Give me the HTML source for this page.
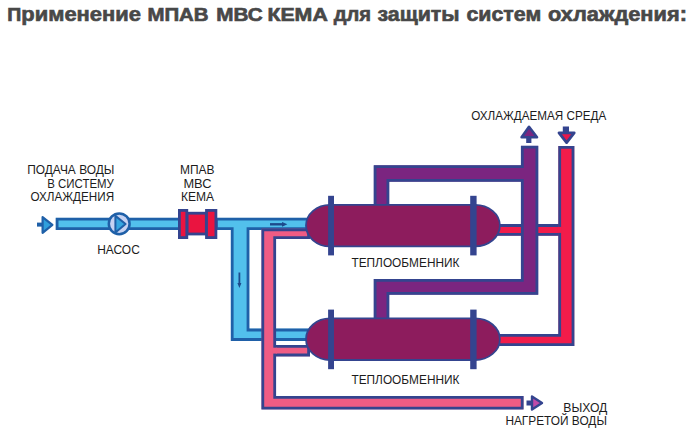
<!DOCTYPE html>
<html lang="ru">
<head>
<meta charset="utf-8">
<title>Применение МПАВ МВС КЕМА</title>
<style>
html,body{margin:0;padding:0;background:#fff;}
body{width:689px;height:433px;overflow:hidden;position:relative;font-family:"Liberation Sans",sans-serif;}
svg{position:absolute;left:0;top:0;display:block;}
.t{font-family:"Liberation Sans",sans-serif;font-size:12.3px;fill:#1c1c1c;}
.lc{font-size:21px;}
.h{font-family:"Liberation Sans",sans-serif;font-size:18.7px;font-weight:bold;fill:#484848;stroke:#484848;stroke-width:0.65px;}
</style>
</head>
<body>
<svg width="689" height="433" viewBox="0 0 689 433">
<defs>
<clipPath id="cb1"><path d="M55.7 217.8 H181 V230.1 H55.7 Z"/></clipPath>
<clipPath id="cb2"><path d="M215 217.8 H310 V230.1 H249.4 V328.6 H310 V340.9 H230.8 V230.1 H215 Z"/></clipPath>
<clipPath id="cp2"><path d="M268 344.9 H310 V356.4 H268 Z"/></clipPath>
<clipPath id="cp1"><path d="M310 228.5 H261.4 V409.6 H523.6 V395.9 H276.1 V239.1 H310 Z"/></clipPath>
<clipPath id="cr2"><path d="M496 224.1 H566 V235.7 H496 Z"/></clipPath>
<clipPath id="cr1"><path d="M558.3 146 H574.4 V346 H496 V334 H558.3 Z"/></clipPath>
<clipPath id="cu1"><path d="M373.7 208 V165.2 H520.9 V145.8 H538.3 V294.8 H389.3 V322 H373.7 V279 H520.9 V181.7 H389.3 V208 Z"/></clipPath>
</defs>
<rect width="689" height="433" fill="#ffffff"/>

<!-- title -->
<text class="h" x="7.30" y="21.2" textLength="133.70" lengthAdjust="spacingAndGlyphs">П<tspan class="lc">рименение</tspan></text>
<text class="h" x="147.44" y="21.2" textLength="61.18" lengthAdjust="spacingAndGlyphs">МПАВ</text>
<text class="h" x="216.26" y="21.2" textLength="46.40" lengthAdjust="spacingAndGlyphs">МВС</text>
<text class="h" x="267.40" y="21.2" textLength="60.40" lengthAdjust="spacingAndGlyphs">КЕМА</text>
<text class="h" x="333.70" y="21.2" textLength="37.38" lengthAdjust="spacingAndGlyphs"><tspan class="lc">для</tspan></text>
<text class="h" x="377.40" y="21.2" textLength="82.19" lengthAdjust="spacingAndGlyphs"><tspan class="lc">защиты</tspan></text>
<text class="h" x="466.50" y="21.2" textLength="74.70" lengthAdjust="spacingAndGlyphs"><tspan class="lc">систем</tspan></text>
<text class="h" x="548.08" y="21.2" textLength="138.82" lengthAdjust="spacingAndGlyphs"><tspan class="lc">охлаждения:</tspan></text>

<!-- blue pipes (cold water in) -->
<path d="M55.7 217.8 H181 V230.1 H55.7 Z" fill="#52c0ec" stroke="#1f60a8" stroke-width="5.6" clip-path="url(#cb1)"/>
<path d="M215 217.8 H310 V230.1 H249.4 V328.6 H310 V340.9 H230.8 V230.1 H215 Z" fill="#52c0ec" stroke="#1f60a8" stroke-width="5.6" clip-path="url(#cb2)"/>
<!-- pink pipes (heated water out) -->
<path d="M268 344.9 H310 V356.4 H268 Z" fill="#f05c84" stroke="#34448f" stroke-width="5.6" clip-path="url(#cp2)"/>
<path d="M310 228.5 H261.4 V409.6 H523.6 V395.9 H276.1 V239.1 H310 Z" fill="#f05c84" stroke="#34448f" stroke-width="5.6" clip-path="url(#cp1)"/>
<rect x="272.90000000000003" y="347.7" width="4.0" height="5.9" fill="#f05c84"/>
<!-- flow arrows in blue pipe -->
<path d="M270 224.3 H283.5" stroke="#1d4a8c" stroke-width="2.4" fill="none"/>
<path d="M282 221.9 L287.4 224.3 L282 226.7 Z" fill="#1d4a8c"/>
<path d="M239.4 272.5 V284.5" stroke="#1d4a8c" stroke-width="1.8" fill="none"/>
<path d="M237.4 283 L239.4 288 L241.4 283 Z" fill="#1d4a8c"/>
<!-- inlet arrow -->
<rect x="37" y="222.6" width="5.5" height="4" fill="#1f60a8"/>
<path d="M42.6 217.2 L52.4 224.8 L42.6 232.8 Z" fill="#2f9fdc" stroke="#1f60a8" stroke-width="2.2" stroke-linejoin="round"/>
<!-- pump -->
<circle cx="119.2" cy="223.8" r="10.4" fill="#c6d2f2" stroke="#1f60a8" stroke-width="2.5"/>
<path d="M115.4 215.9 L125.6 224 L115.4 232.4 Z" fill="#36a6e0" stroke="#1f60a8" stroke-width="2" stroke-linejoin="round"/>
<!-- MPAV device -->
<g fill="#ea1440" stroke="#34448f" stroke-width="2.8">
  <rect x="187" y="213.2" width="19.3" height="20.8"/>
  <rect x="179.4" y="210.4" width="7.4" height="27.2"/>
  <rect x="206.5" y="210.4" width="9.4" height="27.2"/>
</g>
<!-- red pipes (cooled medium in) -->
<path d="M496 224.1 H566 V235.7 H496 Z" fill="#f21c4a" stroke="#34448f" stroke-width="5.6" clip-path="url(#cr2)"/>
<path d="M558.3 146 H574.4 V346 H496 V334 H558.3 Z" fill="#f21c4a" stroke="#34448f" stroke-width="5.6" clip-path="url(#cr1)"/>
<rect x="557.6999999999999" y="226.9" width="4.0" height="6.0" fill="#f21c4a"/>
<!-- purple pipes (cooled medium out) -->
<path d="M373.7 208 V165.2 H520.9 V145.8 H538.3 V294.8 H389.3 V322 H373.7 V279 H520.9 V181.7 H389.3 V208 Z" fill="#7b2580" stroke="#34448f" stroke-width="5.6" clip-path="url(#cu1)"/>
<!-- up arrow -->
<rect x="526.2" y="136" width="5.2" height="7" fill="#34448f"/>
<path d="M529 126.8 L537 137.2 H521.6 Z" fill="#7b2580" stroke="#34448f" stroke-width="2.6" stroke-linejoin="round"/>
<!-- down arrow -->
<rect x="562.8" y="126.5" width="6.2" height="6" fill="#34448f"/>
<path d="M559 132.8 H574.2 L566.6 142.6 Z" fill="#e8164a" stroke="#34448f" stroke-width="2.8" stroke-linejoin="round"/>
<!-- outlet arrow -->
<rect x="526.5" y="400.5" width="5" height="5" fill="#34448f"/>
<path d="M532 396.5 L542 403 L532 409.5 Z" fill="#c04aa8" stroke="#34448f" stroke-width="2.4" stroke-linejoin="round"/>
<!-- heat exchangers -->
<g fill="#8d1c5d" stroke="#34448f" stroke-width="1.8">
  <path d="M330 204.8 H475 A24.9 20.8 0 0 1 475 246.4 H330 A24 20.8 0 0 1 330 204.8 Z"/>
  <path d="M330 318.4 H475 A24.9 20.8 0 0 1 475 360 H330 A24 20.8 0 0 1 330 318.4 Z"/>
</g>
<g fill="#34448f">
  <rect x="328.1" y="195.8" width="5.9" height="59.6"/>
  <rect x="470.2" y="195.8" width="6.4" height="59.6"/>
  <rect x="328.1" y="309.6" width="5.9" height="59.6"/>
  <rect x="470.2" y="309.6" width="6.4" height="59.6"/>
</g>

<!-- labels -->
<text class="t" x="27.20" y="173.8" textLength="87.20" lengthAdjust="spacingAndGlyphs">ПОДАЧА ВОДЫ</text>
<text class="t" x="47.28" y="187.5" textLength="66.59" lengthAdjust="spacingAndGlyphs">В СИСТЕМУ</text>
<text class="t" x="30.50" y="201.3" textLength="83.59" lengthAdjust="spacingAndGlyphs">ОХЛАЖДЕНИЯ</text>
<text class="t" x="97.20" y="253.6" textLength="42.60" lengthAdjust="spacingAndGlyphs">НАСОС</text>
<text class="t" x="180.00" y="173.8" textLength="34.60" lengthAdjust="spacingAndGlyphs">МПАВ</text>
<text class="t" x="183.40" y="187.5" textLength="28.10" lengthAdjust="spacingAndGlyphs">МВС</text>
<text class="t" x="180.90" y="201.3" textLength="33.10" lengthAdjust="spacingAndGlyphs">КЕМА</text>
<text class="t" x="351.46" y="267" textLength="108.00" lengthAdjust="spacingAndGlyphs">ТЕПЛООБМЕННИК</text>
<text class="t" x="351.46" y="384" textLength="108.00" lengthAdjust="spacingAndGlyphs">ТЕПЛООБМЕННИК</text>
<text class="t" x="471.28" y="119.7" textLength="135.00" lengthAdjust="spacingAndGlyphs">ОХЛАЖДАЕМАЯ СРЕДА</text>
<text class="t" x="563.28" y="411.7" textLength="44.10" lengthAdjust="spacingAndGlyphs">ВЫХОД</text>
<text class="t" x="505.40" y="425.4" textLength="101.50" lengthAdjust="spacingAndGlyphs">НАГРЕТОЙ ВОДЫ</text>
</svg>
</body>
</html>
